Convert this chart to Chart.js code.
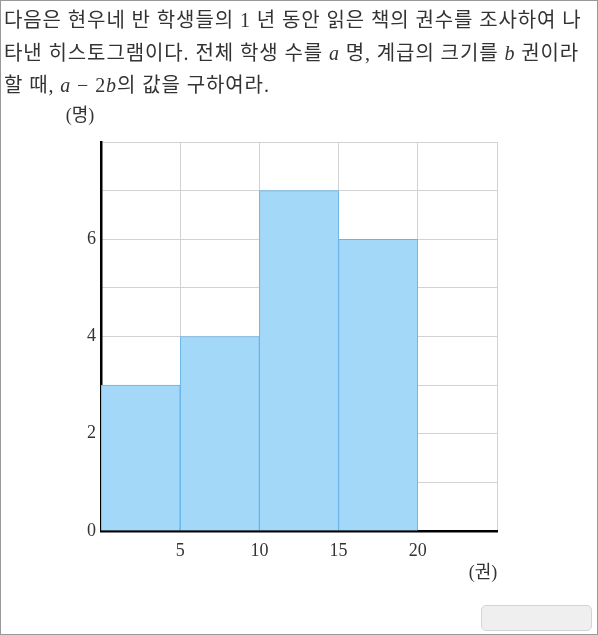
<!DOCTYPE html>
<html>
<head>
<meta charset="utf-8">
<script src="https://cdn.jsdelivr.net/npm/chart.js@4.4.0/dist/chart.umd.min.js"></script>
<style>
  html, body { margin: 0; padding: 0; background: #fff; }
  body { width: 598px; height: 635px; position: relative; overflow: hidden; }
  #frame { position: absolute; left: 0; top: 0; width: 596px; height: 633px; border: 1px solid #999; }
  #question {
    position: absolute; left: 4px; top: 4px; z-index: 2;
    font-family: "Liberation Serif", "Noto Sans CJK KR", serif;
    font-size: 20px; line-height: 32.5px; color: #333; white-space: nowrap;
    letter-spacing: 0.9px;
  }
  #question i { font-family: "Liberation Serif", serif; }
  #wrap { position: absolute; left: 0; top: 0; width: 598px; height: 635px; }
  #btn { position: absolute; left: 481px; top: 605px; width: 111px; height: 26px;
         background: #efefef; border: 1px solid #d4d4d4; border-radius: 5px; box-sizing: border-box; }
</style>
</head>
<body>
<div id="frame"></div>
<div id="question">다음은 현우네 반 학생들의 1 년 동안 읽은 책의 권수를 조사하여 나<br>타낸 히스토그램이다. 전체 학생 수를 <i>a</i> 명, 계급의 크기를 <i>b</i> 권이라<br>할 때, <i>a</i> − 2<i>b</i>의 값을 구하여라.</div>
<div id="wrap"><canvas id="chart"></canvas></div>
<div id="btn"></div>
<script>
// class midpoints (books) and student counts
const classMids = [2.5, 7.5, 12.5, 17.5];
const counts = [3, 4, 7, 6];
const xTicks = [5, 10, 15, 20];
const yTicks = [0, 2, 4, 6];
const yTitle = '(명)';
const xTitle = '(권)';

const tickFont = { family: '"Liberation Serif", serif', size: 18 };

const axisTitles = {
  id: 'axisTitles',
  afterDraw(chart) {
    const { ctx, chartArea } = chart;
    ctx.save();
    ctx.fillStyle = '#333';
    ctx.font = '18px "Liberation Serif", "Noto Sans CJK KR", serif';
    ctx.textAlign = 'center';
    ctx.textBaseline = 'middle';
    ctx.fillText(yTitle, chartArea.left - 21, chartArea.top - 26);
    ctx.fillText(xTitle, chartArea.right - 14, chartArea.bottom + 42);
    ctx.restore();
  }
};

new Chart(document.getElementById('chart'), {
  type: 'bar',
  data: {
    datasets: [{
      data: classMids.map((x, i) => ({ x: x, y: counts[i] })),
      backgroundColor: '#a4d8f8',
      borderColor: '#62b4ec',
      borderWidth: 1,
      barPercentage: 1,
      categoryPercentage: 1
    }]
  },
  options: {
    responsive: true,
    maintainAspectRatio: false,
    animation: false,
    layout: { padding: { left: 0, top: 142, right: 101, bottom: 74 } },
    plugins: { legend: { display: false }, tooltip: { enabled: false } },
    scales: {
      x: {
        type: 'linear',
        offset: false,
        min: 0, max: 25,
        afterFit(scale) { scale.height = 30; },
        afterBuildTicks(scale) { scale.ticks = [0, 5, 10, 15, 20, 25].map(v => ({ value: v })); },
        ticks: {
          color: '#333', font: tickFont, padding: 9, maxRotation: 0,
          callback: v => xTicks.includes(v) ? String(v) : ''
        },
        grid: { color: '#d2d2d2', lineWidth: 1, drawTicks: false, offset: false },
        border: { color: '#000', width: 2.5 }
      },
      y: {
        min: 0, max: 8,
        afterFit(scale) { scale.width = 101; },
        ticks: {
          stepSize: 1, color: '#333', font: tickFont, padding: 5,
          callback: v => yTicks.includes(v) ? String(v) : ''
        },
        grid: { color: '#d2d2d2', lineWidth: 1, drawTicks: false },
        border: { color: '#000', width: 2.5 }
      }
    }
  },
  plugins: [axisTitles]
});
</script>
</body>
</html>
